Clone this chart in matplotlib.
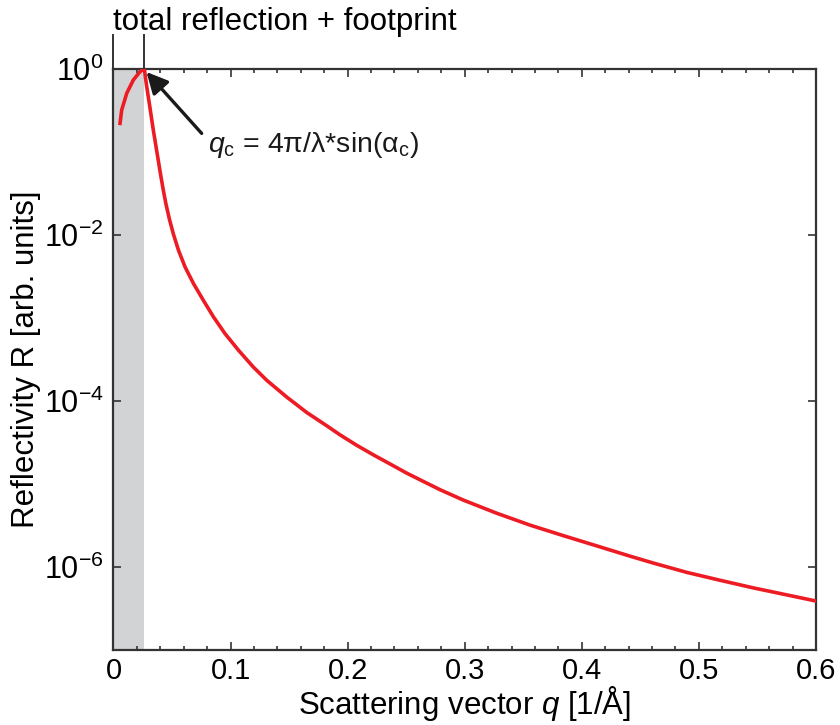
import numpy as np
import matplotlib
matplotlib.use('Agg')
import matplotlib.pyplot as plt
from matplotlib.ticker import FixedLocator, MultipleLocator, NullLocator, LogFormatterSciNotation

plt.rcParams['font.family'] = ['Liberation Sans', 'DejaVu Sans']
plt.rcParams['mathtext.fontset'] = 'custom'
plt.rcParams['mathtext.rm'] = 'Liberation Sans'
plt.rcParams['mathtext.it'] = 'Liberation Sans:italic'

# values (q in 1/A, log10 of R)
q = [0.0056, 0.0070, 0.0113, 0.0169, 0.0226, 0.0263, 0.0282, 0.0306, 0.0323,
     0.0340, 0.0361, 0.0383, 0.0404, 0.0425, 0.0448, 0.0477, 0.0511, 0.0555,
     0.0611, 0.0683, 0.0767, 0.0854, 0.0952, 0.1068, 0.1194, 0.1309, 0.1479,
     0.1650, 0.1821, 0.1935, 0.2077, 0.2219, 0.2362, 0.2504, 0.2646, 0.2789,
     0.2988, 0.3273, 0.3557, 0.3842, 0.4127, 0.4412, 0.4611, 0.4896, 0.5180,
     0.5465, 0.5750, 0.6]
log_r = [-0.660, -0.500, -0.299, -0.139, -0.039, 0.0, -0.20, -0.42, -0.58,
         -0.74, -0.92, -1.11, -1.29, -1.46, -1.63, -1.81, -1.99, -2.187,
         -2.388, -2.588, -2.789, -2.990, -3.190, -3.392, -3.593, -3.753, -3.954,
         -4.140, -4.300, -4.410, -4.535, -4.650, -4.760, -4.870, -4.970, -5.070,
         -5.195, -5.353, -5.496, -5.623, -5.746, -5.870, -5.953, -6.065, -6.160,
         -6.252, -6.336, -6.41]
q_c = 0.0263
y_ticks = [1e-6, 1e-4, 1e-2, 1e0]

red = '#ed1c24'
dark = '#333333'

fig = plt.figure(figsize=(8.4, 7.25), dpi=100)
ax = fig.add_axes([0.1351, 0.1034, 0.8363, 0.8021])

ax.axvspan(0, q_c, color='#d1d3d4', lw=0, zorder=0)
ax.plot(q, 10 ** np.array(log_r), color=red, lw=2.6, zorder=3, solid_joinstyle='round')

ax.set_yscale('log')
ax.set_xlim(0, 0.6)
ax.set_ylim(1e-7, 1)

ax.xaxis.set_major_locator(MultipleLocator(0.1))
ax.xaxis.set_minor_locator(MultipleLocator(0.02))
ax.xaxis.set_major_formatter(plt.FuncFormatter(lambda v, p: '0' if v == 0 else ('%.1f' % v)))
ax.yaxis.set_major_locator(FixedLocator(y_ticks))
ax.yaxis.set_minor_locator(NullLocator())
ax.yaxis.set_major_formatter(LogFormatterSciNotation())

ax.tick_params(which='both', direction='in', top=True, right=True, color=dark, width=1.2)
ax.tick_params(axis='x', labelsize=21, pad=5)
ax.tick_params(axis='y', labelsize=22, pad=7)
ax.tick_params(which='major', length=6)
ax.tick_params(which='minor', length=3)
for s in ax.spines.values():
    s.set_color(dark)
    s.set_linewidth(1.6)

ax.set_xlabel('Scattering vector $\\mathit{q}$ [1/Å]', fontsize=22.5, labelpad=-1)
ax.set_ylabel('Reflectivity R [arb. units]', fontsize=22.5)
ax.yaxis.set_label_coords(-0.103, 0.5)

# bracket lines above the axes marking the grey region
trans = ax.get_xaxis_transform()
ax.plot([0, 0], [1, 1.057], transform=trans, color=dark, lw=1.4, clip_on=False)
ax.plot([q_c, q_c], [1, 1.057], transform=trans, color=dark, lw=1.4, clip_on=False)
ax.text(0, 1.066, 'total reflection + footprint', transform=trans, fontsize=22.5,
        ha='left', va='baseline')

ax.annotate('', xy=(0.0282, 10 ** -0.042), xytext=(0.0753, 10 ** -0.781),
            arrowprops=dict(arrowstyle='-|>', color='#1a1a1a', lw=2.4,
                            mutation_scale=32, shrinkA=0, shrinkB=0))
ax.text(0.0807, 10 ** -0.92, '$\\mathit{q}_{\\mathrm{c}}$ = 4π/λ*sin(α$_{\\mathrm{c}}$)',
        fontsize=20.5, ha='left', va='center', color='#1a1a1a')

fig.savefig('out.png', dpi=100)
